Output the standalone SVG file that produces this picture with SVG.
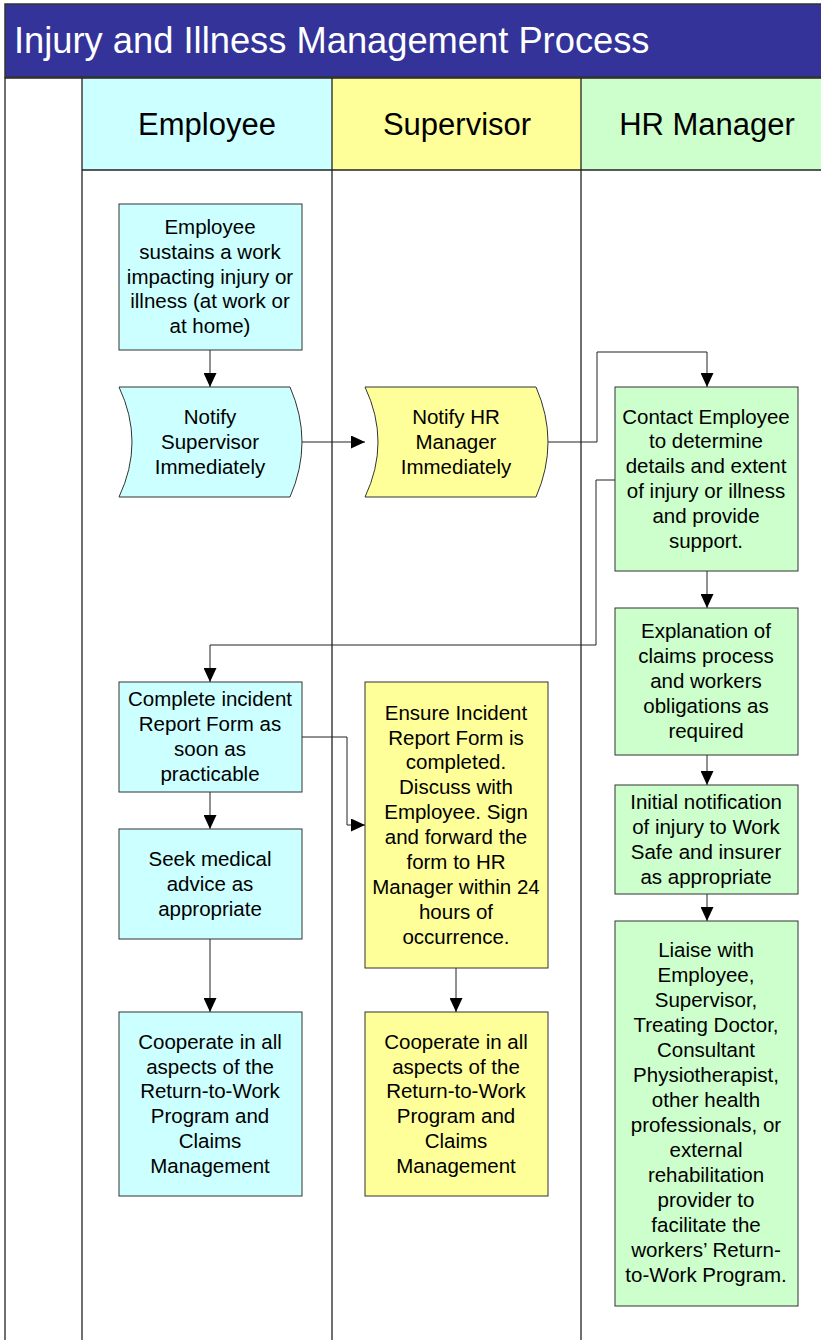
<svg xmlns="http://www.w3.org/2000/svg" width="821" height="1340" viewBox="0 0 821 1340">
<style>
.t{font-family:"Liberation Sans",Arial,sans-serif;font-size:20.5px;fill:#000;text-anchor:middle}
.h{font-family:"Liberation Sans",Arial,sans-serif;font-size:31px;fill:#000;text-anchor:middle}
.ttl{font-family:"Liberation Sans",Arial,sans-serif;font-size:36.3px;fill:#fff}
.lane{stroke:#222;stroke-width:1.3;fill:none}
.c{fill:#ccffff;stroke:#333;stroke-width:1}
.y{fill:#ffff99;stroke:#333;stroke-width:1}
.g{fill:#ccffcc;stroke:#333;stroke-width:1}
.con{fill:none;stroke:#222;stroke-width:1}
</style>
<defs>
<marker id="a" viewBox="0 0 14 13" refX="14" refY="6.5" markerWidth="14" markerHeight="13" markerUnits="userSpaceOnUse" orient="auto">
<path d="M0,0 L14,6.5 L0,13 Z" fill="#000"/>
</marker>
</defs>
<rect width="821" height="1340" fill="#fff"/>
<g id="pool">
<rect x="5" y="4" width="830" height="73" fill="#333399" stroke="#333" stroke-width="1.5"/>
<text class="ttl" x="14" y="53">Injury and Illness Management Process</text>
<rect x="82" y="78" width="250" height="92" fill="#ccffff"/>
<rect x="332" y="78" width="249" height="92" fill="#ffff99"/>
<rect x="581" y="78" width="250" height="92" fill="#ccffcc"/>
<line class="lane" x1="5" y1="78" x2="821" y2="78"/>
<line class="lane" x1="82" y1="170" x2="821" y2="170"/>
<line class="lane" x1="5" y1="77" x2="5" y2="1340"/>
<line class="lane" x1="82" y1="78" x2="82" y2="1340"/>
<line class="lane" x1="332" y1="78" x2="332" y2="1340"/>
<line class="lane" x1="581" y1="78" x2="581" y2="1340"/>
<text class="h" x="207" y="135">Employee</text>
<text class="h" x="457" y="135">Supervisor</text>
<text class="h" x="707" y="135">HR Manager</text>
</g>
<g id="connectors">
<path class="con" d="M210,350 V387" marker-end="url(#a)"/>
<path class="con" d="M302,442 H365" marker-end="url(#a)"/>
<path class="con" d="M548,442 H597 V352 H707 V387" marker-end="url(#a)"/>
<path class="con" d="M615,480 H596 V645 H210 V682" marker-end="url(#a)"/>
<path class="con" d="M707,571 V608" marker-end="url(#a)"/>
<path class="con" d="M707,755 V785" marker-end="url(#a)"/>
<path class="con" d="M707,894 V921" marker-end="url(#a)"/>
<path class="con" d="M302,737 H347 V825 H365" marker-end="url(#a)"/>
<path class="con" d="M210,792 V829" marker-end="url(#a)"/>
<path class="con" d="M210,939 V1012" marker-end="url(#a)"/>
<path class="con" d="M456,968 V1012" marker-end="url(#a)"/>
</g>
<g id="n1">
<rect class="c" x="119" y="204" width="183" height="146"/>
<text class="t" x="210"><tspan x="210" y="234">Employee</tspan><tspan x="210" y="259">sustains a work</tspan><tspan x="210" y="284">impacting injury or</tspan><tspan x="210" y="308">illness (at work or</tspan><tspan x="210" y="333">at home)</tspan></text>
</g>
<g id="n2">
<path class="c" d="M119,387 L290,387 Q314,442 290,497 L119,497 Q145,442 119,387 Z"/>
<text class="t"><tspan x="210" y="424">Notify</tspan><tspan x="210" y="449">Supervisor</tspan><tspan x="210" y="474">Immediately</tspan></text>
</g>
<g id="n3">
<path class="y" d="M365,387 L536,387 Q560,442 536,497 L365,497 Q391,442 365,387 Z"/>
<text class="t"><tspan x="456" y="424">Notify HR</tspan><tspan x="456" y="449">Manager</tspan><tspan x="456" y="474">Immediately</tspan></text>
</g>
<g id="n4">
<rect class="g" x="615" y="387" width="183" height="184"/>
<text class="t"><tspan x="706" y="424">Contact Employee</tspan><tspan x="706" y="448">to determine</tspan><tspan x="706" y="473">details and extent</tspan><tspan x="706" y="498">of injury or illness</tspan><tspan x="706" y="523">and provide</tspan><tspan x="706" y="548">support.</tspan></text>
</g>
<g id="n5">
<rect class="g" x="615" y="608" width="183" height="147"/>
<text class="t"><tspan x="706" y="638">Explanation of</tspan><tspan x="706" y="663">claims process</tspan><tspan x="706" y="688">and workers</tspan><tspan x="706" y="713">obligations as</tspan><tspan x="706" y="738">required</tspan></text>
</g>
<g id="n6">
<rect class="g" x="615" y="785" width="183" height="109"/>
<text class="t"><tspan x="706" y="809">Initial notification</tspan><tspan x="706" y="834">of injury to Work</tspan><tspan x="706" y="859">Safe and insurer</tspan><tspan x="706" y="884">as appropriate</tspan></text>
</g>
<g id="n7">
<rect class="g" x="615" y="921" width="183" height="385"/>
<text class="t"><tspan x="706" y="957">Liaise with</tspan><tspan x="706" y="982">Employee,</tspan><tspan x="706" y="1007">Supervisor,</tspan><tspan x="706" y="1032">Treating Doctor,</tspan><tspan x="706" y="1057">Consultant</tspan><tspan x="706" y="1082">Physiotherapist,</tspan><tspan x="706" y="1107">other health</tspan><tspan x="706" y="1132">professionals, or</tspan><tspan x="706" y="1157">external</tspan><tspan x="706" y="1182">rehabilitation</tspan><tspan x="706" y="1207">provider to</tspan><tspan x="706" y="1232">facilitate the</tspan><tspan x="706" y="1257">workers’ Return-</tspan><tspan x="706" y="1282">to-Work Program.</tspan></text>
</g>
<g id="n8">
<rect class="c" x="119" y="682" width="183" height="110"/>
<text class="t"><tspan x="210" y="706">Complete incident</tspan><tspan x="210" y="731">Report Form as</tspan><tspan x="210" y="756">soon as</tspan><tspan x="210" y="781">practicable</tspan></text>
</g>
<g id="n9">
<rect class="c" x="119" y="829" width="183" height="110"/>
<text class="t"><tspan x="210" y="866">Seek medical</tspan><tspan x="210" y="891">advice as</tspan><tspan x="210" y="916">appropriate</tspan></text>
</g>
<g id="n10">
<rect class="c" x="119" y="1012" width="183" height="184"/>
<text class="t"><tspan x="210" y="1049">Cooperate in all</tspan><tspan x="210" y="1074">aspects of the</tspan><tspan x="210" y="1098">Return-to-Work</tspan><tspan x="210" y="1123">Program and</tspan><tspan x="210" y="1148">Claims</tspan><tspan x="210" y="1173">Management</tspan></text>
</g>
<g id="n11">
<rect class="y" x="365" y="682" width="183" height="286"/>
<text class="t"><tspan x="456" y="720">Ensure Incident</tspan><tspan x="456" y="745">Report Form is</tspan><tspan x="456" y="769">completed.</tspan><tspan x="456" y="794">Discuss with</tspan><tspan x="456" y="819">Employee. Sign</tspan><tspan x="456" y="844">and forward the</tspan><tspan x="456" y="869">form to HR</tspan><tspan x="456" y="894">Manager within 24</tspan><tspan x="456" y="919">hours of</tspan><tspan x="456" y="944">occurrence.</tspan></text>
</g>
<g id="n12">
<rect class="y" x="365" y="1012" width="183" height="184"/>
<text class="t"><tspan x="456" y="1049">Cooperate in all</tspan><tspan x="456" y="1074">aspects of the</tspan><tspan x="456" y="1098">Return-to-Work</tspan><tspan x="456" y="1123">Program and</tspan><tspan x="456" y="1148">Claims</tspan><tspan x="456" y="1173">Management</tspan></text>
</g>
</svg>
